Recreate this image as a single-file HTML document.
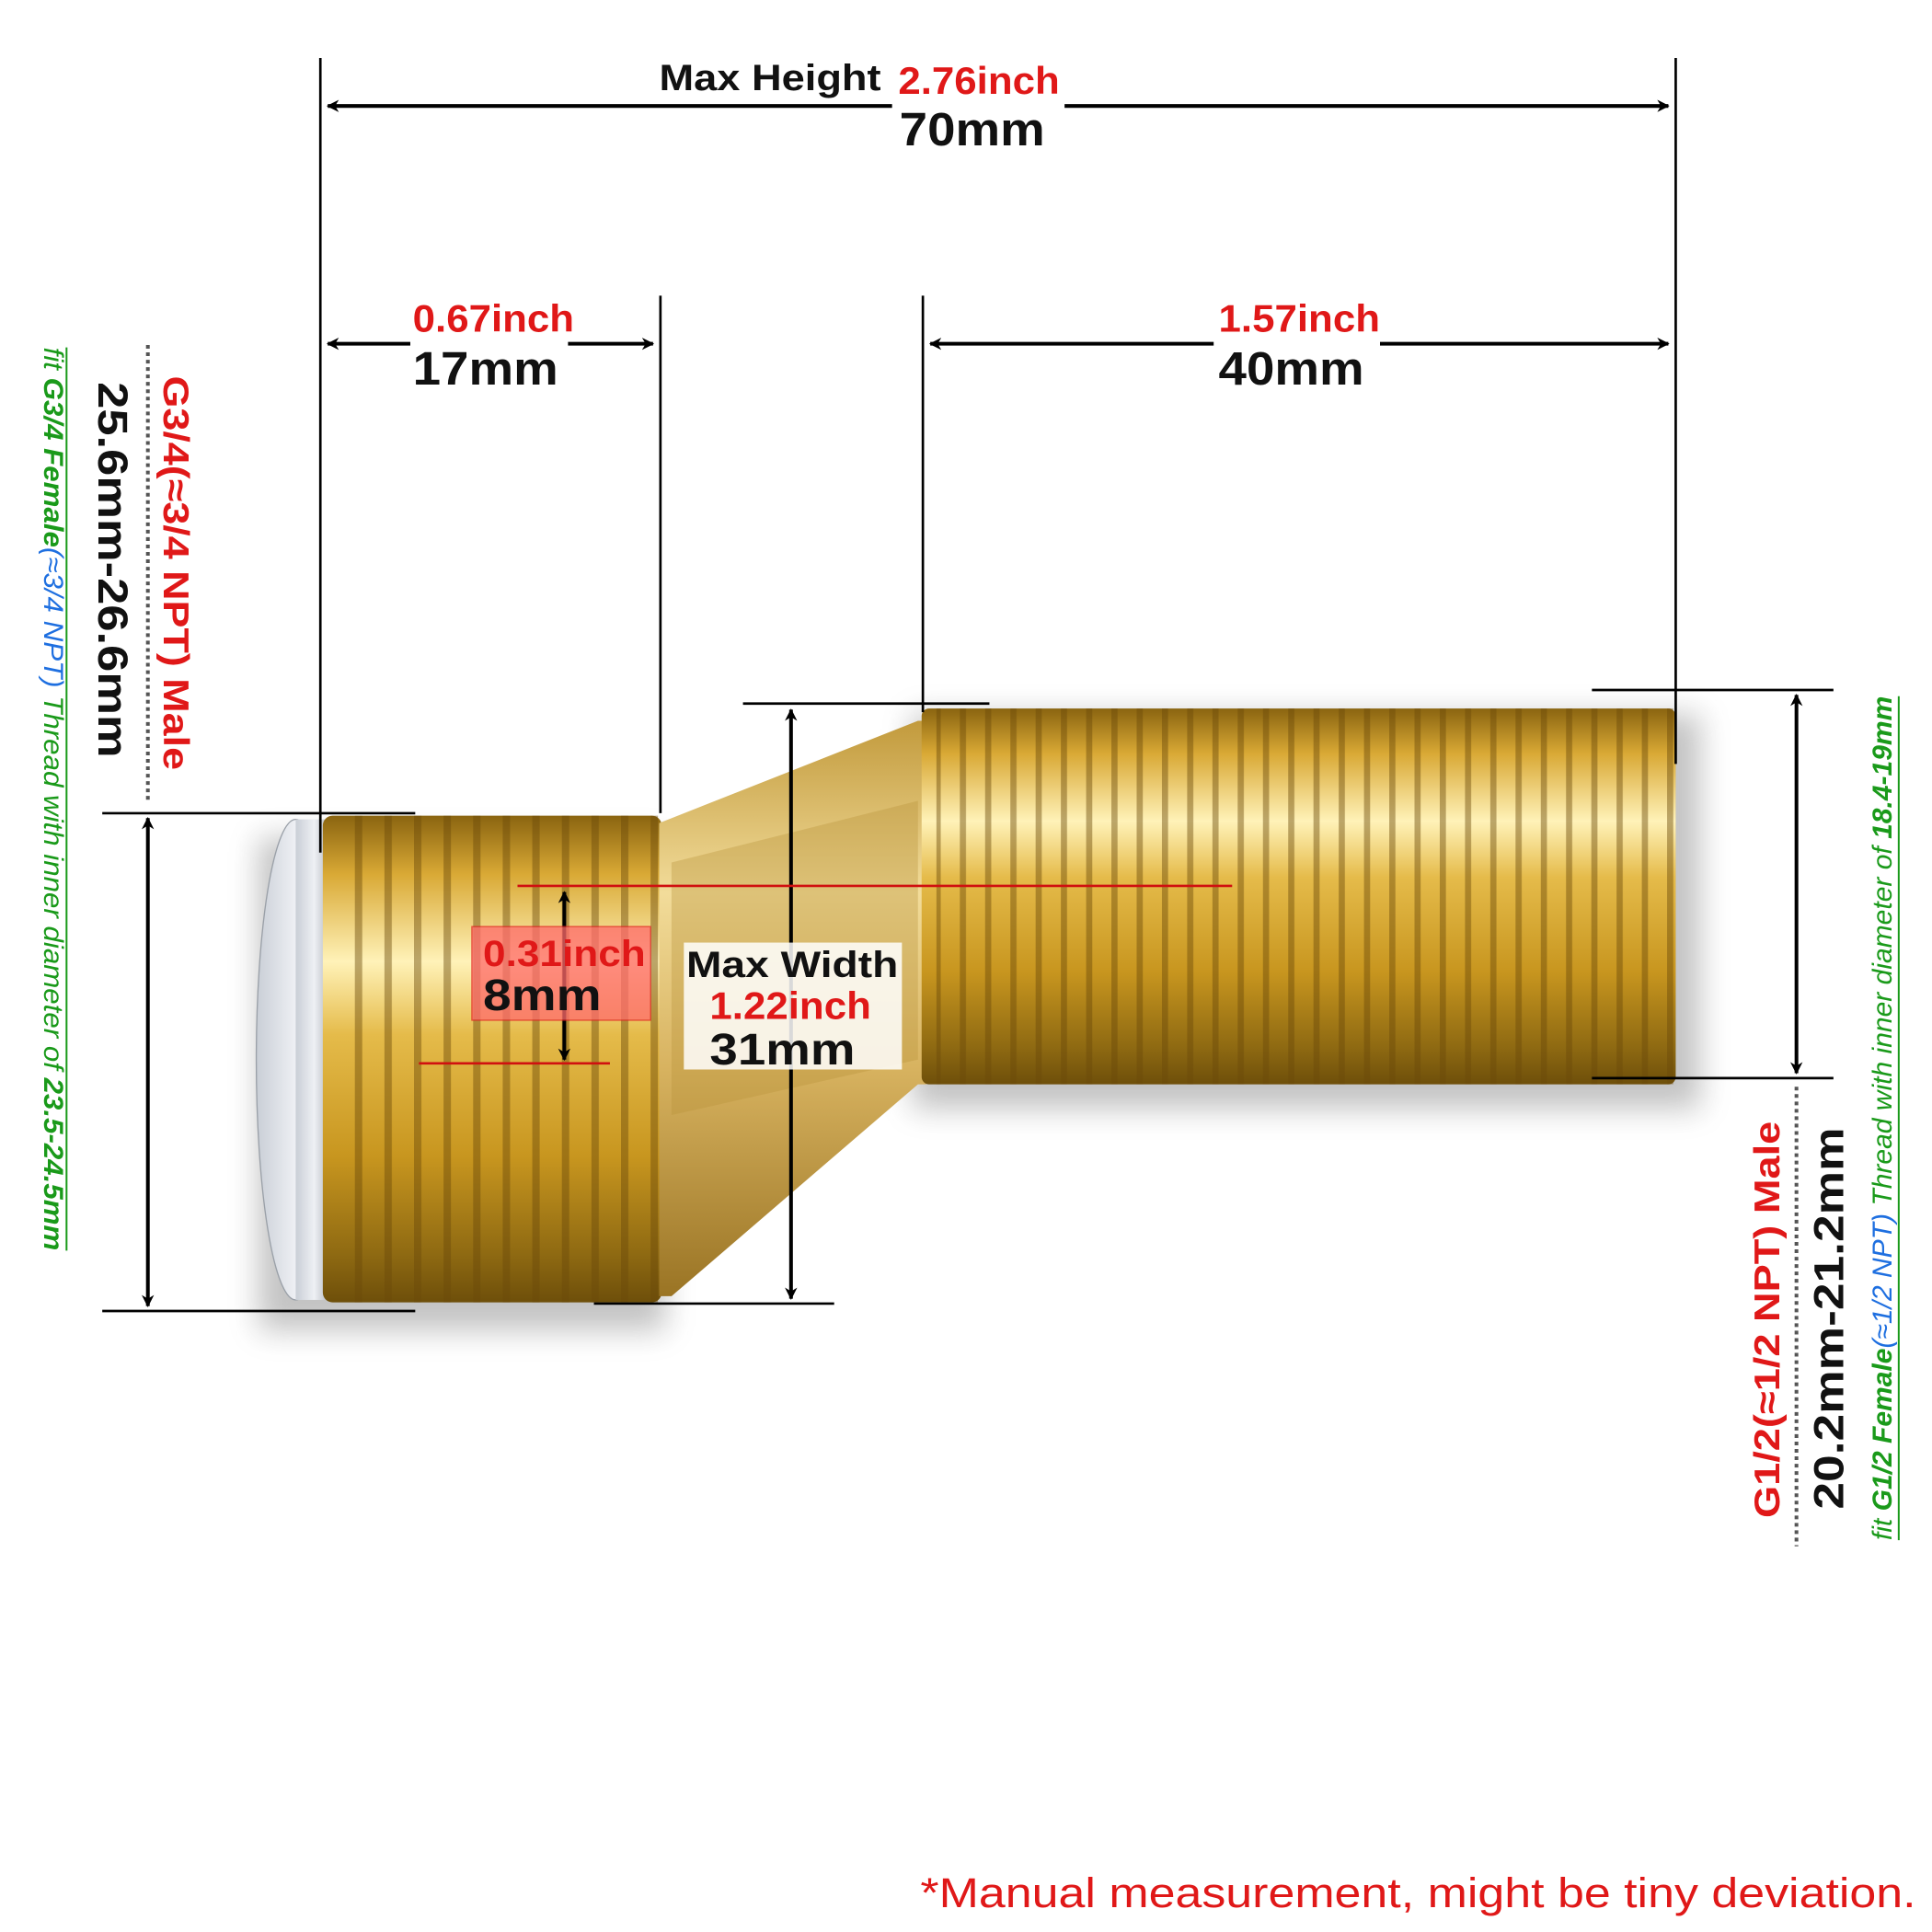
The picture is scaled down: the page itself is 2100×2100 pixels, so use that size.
<!DOCTYPE html>
<html><head><meta charset="utf-8"><style>
html,body{margin:0;padding:0;background:#fff;}
svg{display:block;}
text{font-family:"Liberation Sans",sans-serif;}
</style></head><body>
<svg width="2100" height="2100" viewBox="0 0 1568 1568" xmlns="http://www.w3.org/2000/svg">
<defs>
<linearGradient id="gL" x1="0" y1="0" x2="0" y2="1">
<stop offset="0" stop-color="#8a6410"/><stop offset="0.12" stop-color="#d9a935"/><stop offset="0.3" stop-color="#fff2b8"/><stop offset="0.45" stop-color="#e5bb4a"/><stop offset="0.7" stop-color="#c8961f"/><stop offset="0.9" stop-color="#8f6a12"/><stop offset="1" stop-color="#6e4f0a"/>
</linearGradient>
<linearGradient id="gN" x1="0" y1="0" x2="0" y2="1">
<stop offset="0" stop-color="#c29a3c"/><stop offset="0.3" stop-color="#f2dc9a"/><stop offset="0.6" stop-color="#d8b360"/><stop offset="1" stop-color="#9a7424"/>
</linearGradient>
<linearGradient id="gD" x1="0" y1="0" x2="1" y2="0">
<stop offset="0" stop-color="#c9ced6"/><stop offset="0.5" stop-color="#eef0f4"/><stop offset="1" stop-color="#a8adb5"/>
</linearGradient>
<pattern id="tL" width="24" height="10" patternUnits="userSpaceOnUse">
<rect x="0" y="0" width="6" height="10" fill="#6a4a08" opacity="0.45"/>
</pattern>
<pattern id="tR" width="20.5" height="10" patternUnits="userSpaceOnUse">
<rect x="0" y="0" width="5" height="10" fill="#6a4a08" opacity="0.45"/>
</pattern>
<marker id="ah" markerWidth="10" markerHeight="10" refX="9" refY="5" orient="auto-start-reverse" markerUnits="userSpaceOnUse">
<path d="M0,0 L10,5 L0,10 L3,5 z" fill="#000"/>
</marker>
<filter id="sh" x="-20%" y="-20%" width="140%" height="140%"><feGaussianBlur stdDeviation="12"/></filter>
</defs>

<g filter="url(#sh)" opacity="0.35">
<rect x="210" y="680" width="330" height="400" fill="#555"/>
<rect x="740" y="580" width="640" height="320" fill="#555"/>
</g>

<ellipse cx="240" cy="860" rx="32" ry="195" fill="url(#gD)" stroke="#9aa0a8"/>
<rect x="240" y="665" width="30" height="390" fill="url(#gD)"/>
<rect x="262" y="662" width="275" height="395" rx="8" fill="url(#gL)"/>
<rect x="275" y="662" width="260" height="395" fill="url(#tL)"/>
<path d="M535,668 L745,585 L752,585 L752,880 L745,880 L545,1052 L535,1052 Z" fill="url(#gN)"/>
<path d="M545,700 L745,650 L745,860 L545,905 Z" fill="#b8913a" opacity="0.35"/>
<rect x="748" y="575" width="612" height="305" rx="6" fill="url(#gL)"/>
<rect x="760" y="575" width="600" height="305" fill="url(#tR)"/>

<g stroke="#000" stroke-width="2" fill="none">
<line x1="260" y1="47" x2="260" y2="692"/>
<line x1="1360" y1="47" x2="1360" y2="620"/>
<line x1="536" y1="240" x2="536" y2="660"/>
<line x1="749" y1="240" x2="749" y2="578"/>
<line x1="83" y1="660" x2="337" y2="660"/>
<line x1="83" y1="1064" x2="337" y2="1064"/>
<line x1="1292" y1="560" x2="1488" y2="560"/>
<line x1="1292" y1="875" x2="1488" y2="875"/>
<line x1="603" y1="571" x2="803" y2="571"/>
<line x1="482" y1="1058" x2="677" y2="1058"/>
</g>
<g stroke="#000" stroke-width="3" fill="none" marker-start="url(#ah)" marker-end="url(#ah)">
<line x1="266" y1="86" x2="1354" y2="86"/>
<line x1="266" y1="279" x2="530" y2="279"/>
<line x1="755" y1="279" x2="1354" y2="279"/>
<line x1="120" y1="664" x2="120" y2="1060"/>
<line x1="1458" y1="564" x2="1458" y2="871"/>
<line x1="642" y1="576" x2="642" y2="1054"/>
<line x1="458" y1="724" x2="458" y2="860"/>
</g>
<g stroke="#555" stroke-width="3" stroke-dasharray="3,3">
<line x1="120" y1="280" x2="120" y2="652"/>
<line x1="1458" y1="882" x2="1458" y2="1255"/>
</g>
<rect x="724" y="42" width="140" height="90" fill="#fff"/>
<rect x="333" y="243" width="128" height="76" fill="#fff"/>
<rect x="985" y="243" width="135" height="76" fill="#fff"/>

<line x1="420" y1="719" x2="1000" y2="719" stroke="#d01010" stroke-width="2"/>
<line x1="340" y1="863" x2="495" y2="863" stroke="#d01010" stroke-width="2"/>
<rect x="383" y="752" width="145" height="76" fill="#ff6a6a" opacity="0.75" stroke="#e02020"/>
<rect x="555" y="765" width="177" height="103" fill="#fff" opacity="0.85"/>

<g font-weight="bold">
<text x="535" y="73" font-size="30" fill="#111" textLength="180" lengthAdjust="spacingAndGlyphs">Max Height</text>
<text x="729" y="76" font-size="31" fill="#e01818" textLength="131" lengthAdjust="spacingAndGlyphs">2.76inch</text>
<text x="730" y="118" font-size="38" fill="#111" textLength="118" lengthAdjust="spacingAndGlyphs">70mm</text>
<text x="335" y="269" font-size="31" fill="#e01818" textLength="131" lengthAdjust="spacingAndGlyphs">0.67inch</text>
<text x="335" y="312" font-size="38" fill="#111" textLength="118" lengthAdjust="spacingAndGlyphs">17mm</text>
<text x="989" y="269" font-size="31" fill="#e01818" textLength="131" lengthAdjust="spacingAndGlyphs">1.57inch</text>
<text x="989" y="312" font-size="38" fill="#111" textLength="118" lengthAdjust="spacingAndGlyphs">40mm</text>
<text x="392" y="784" font-size="30" fill="#e01818" textLength="132" lengthAdjust="spacingAndGlyphs">0.31inch</text>
<text x="392" y="820" font-size="36" fill="#111" textLength="96" lengthAdjust="spacingAndGlyphs">8mm</text>
<text x="557" y="793" font-size="30" fill="#111" textLength="172" lengthAdjust="spacingAndGlyphs">Max Width</text>
<text x="576" y="827" font-size="31" fill="#e01818" textLength="131" lengthAdjust="spacingAndGlyphs">1.22inch</text>
<text x="576" y="864" font-size="36" fill="#111" textLength="118" lengthAdjust="spacingAndGlyphs">31mm</text>
</g>

<g font-weight="bold">
<text transform="translate(80,310) rotate(90)" font-size="34" fill="#111" textLength="305" lengthAdjust="spacingAndGlyphs">25.6mm-26.6mm</text>
<text transform="translate(133,305) rotate(90)" font-size="29" fill="#e01818" textLength="320" lengthAdjust="spacingAndGlyphs">G3/4(≈3/4 NPT) Male</text>
</g>
<text transform="translate(36,282) rotate(90)" font-size="22" font-style="italic" fill="#1a9a1a" textLength="733" lengthAdjust="spacingAndGlyphs">fit <tspan font-weight="bold">G3/4 Female</tspan><tspan fill="#1e6fe0">(≈3/4 NPT)</tspan> Thread with inner diameter of <tspan font-weight="bold">23.5-24.5mm</tspan></text>
<line x1="54" y1="282" x2="54" y2="1015" stroke="#1a9a1a" stroke-width="1.5"/>

<g font-weight="bold">
<text transform="translate(1496,1225) rotate(-90)" font-size="34" fill="#111" textLength="310" lengthAdjust="spacingAndGlyphs">20.2mm-21.2mm</text>
<text transform="translate(1444,1232) rotate(-90)" font-size="29" fill="#e01818" textLength="322" lengthAdjust="spacingAndGlyphs">G1/2(≈1/2 NPT) Male</text>
</g>
<text transform="translate(1535,1250) rotate(-90)" font-size="22" font-style="italic" fill="#1a9a1a" textLength="685" lengthAdjust="spacingAndGlyphs">fit <tspan font-weight="bold">G1/2 Female</tspan><tspan fill="#1e6fe0">(≈1/2 NPT)</tspan> Thread with inner diameter of <tspan font-weight="bold">18.4-19mm</tspan></text>
<line x1="1541" y1="565" x2="1541" y2="1250" stroke="#1a9a1a" stroke-width="1.5"/>

<text x="1555" y="1548" font-size="34" fill="#e01818" text-anchor="end" textLength="808" lengthAdjust="spacingAndGlyphs">*Manual measurement, might be tiny deviation.</text>
</svg>
</body></html>
